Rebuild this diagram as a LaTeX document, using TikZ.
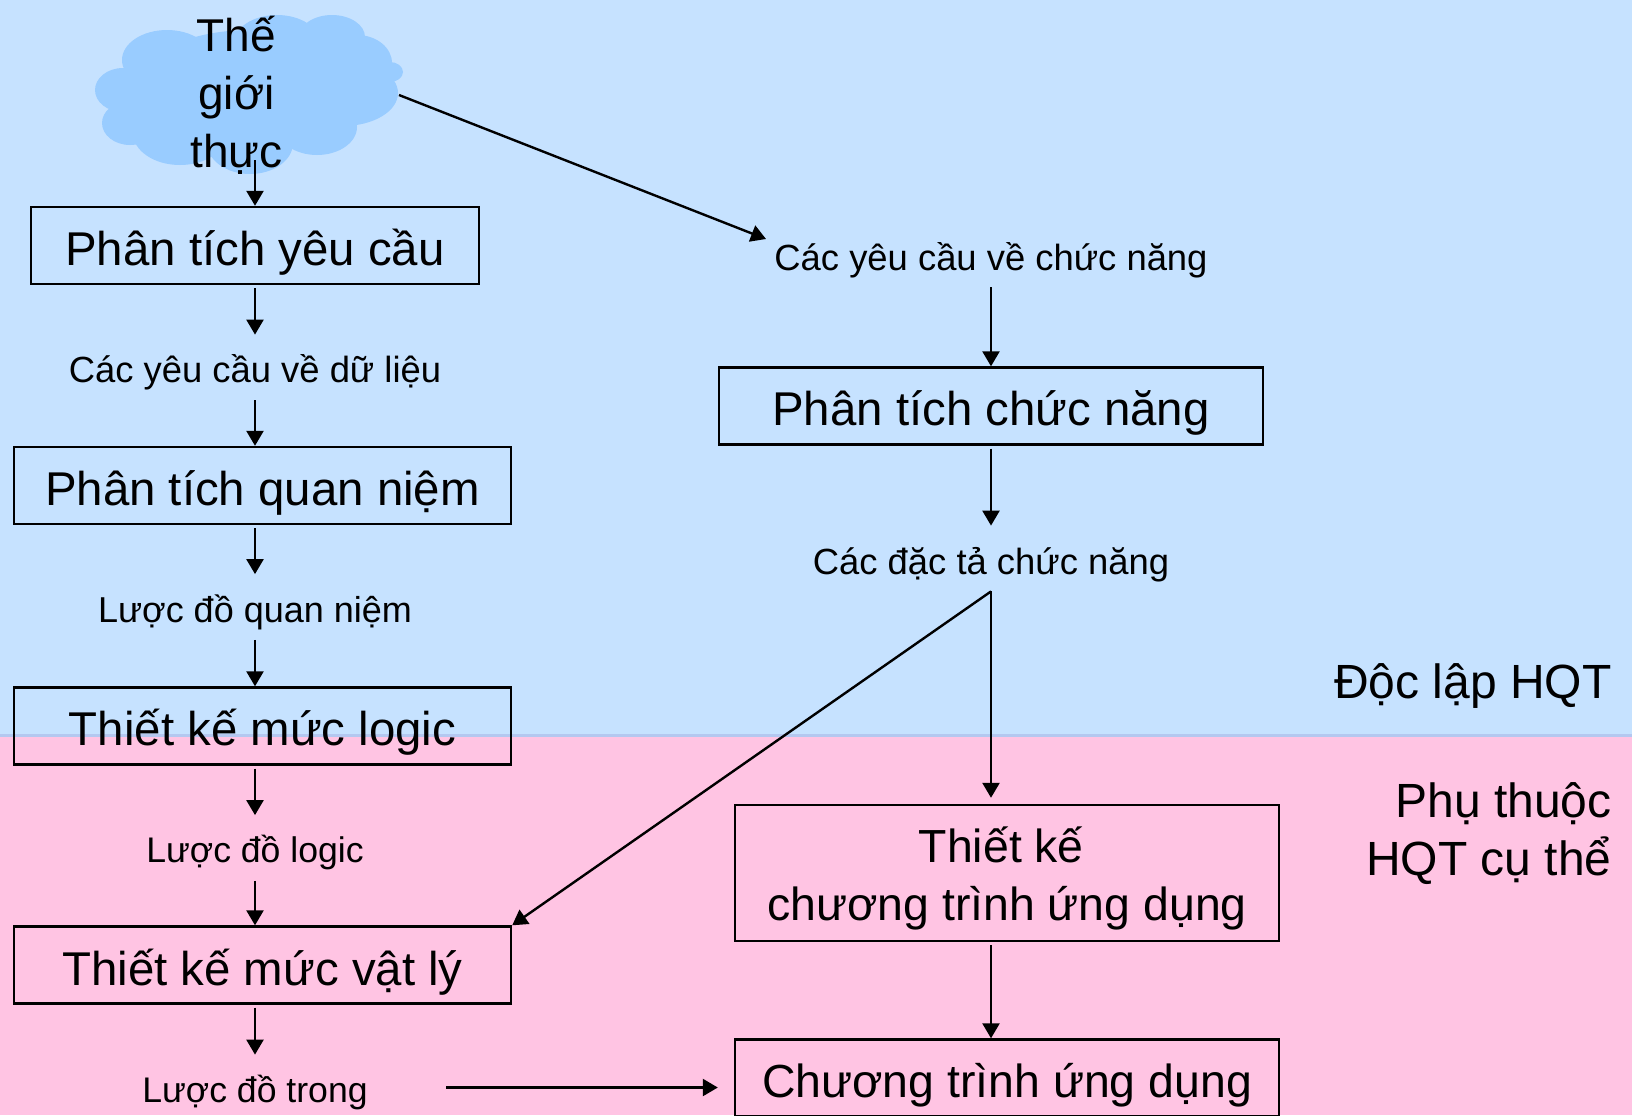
\documentclass[tikz,border=0pt]{standalone}
\usepackage{fontspec}
\setmainfont{Liberation Sans}
\usetikzlibrary{arrows.meta}
\definecolor{topblue}{HTML}{C6E2FF}
\definecolor{lowpink}{HTML}{FFC4E3}
\definecolor{cloudblue}{HTML}{99CCFF}
\definecolor{edgeblue}{HTML}{B4C8F0}
\tikzstyle{stagebox} = [draw, line width=1.2pt, inner sep=0pt, align=center, font=\fontsize{23.7}{29}\selectfont]
\tikzstyle{oneline} = [stagebox, minimum height=38.5pt, text height=26pt, text depth=6pt]
\tikzstyle{outcome} = [inner sep=0pt, minimum height=32.5pt, text height=19pt, text depth=4pt, font=\fontsize{18.2}{22}\selectfont]
\tikzstyle{schema} = [outcome, font=\fontsize{17.8}{22}\selectfont]
\tikzstyle{side} = [anchor=base east, inner sep=0pt, align=right, font=\fontsize{24}{29}\selectfont]
\tikzstyle{arrow} = [-{Triangle[length=7.5pt,width=8.5pt]}, line width=1.2pt, shorten <=1.5pt]

\begin{document}
\begin{tikzpicture}[x=0.5pt, y=-0.5pt]
    \useasboundingbox (0,0) rectangle (1632,1115);
    % The two bands
    \fill[topblue] (0,0) rectangle (1632,735);
    \fill[lowpink] (0,735) rectangle (1632,1115);
    \draw[edgeblue, line width=1.5pt] (0,735) -- (1632,735);

    % The cloud
    \foreach \cx/\cy/\rx/\ry in {123/90/28/22, 130/123/28/22, 167/60/45/30, 277/43/43/28,
            332/37/33/22, 357/63/35/28, 390/72/13/10, 343/93/55/33, 317/127/40/28,
            250/143/43/31, 180/133/47/32, 250/90/117/60}
        \fill[cloudblue] (\cx,\cy) ellipse [x radius=\rx, y radius=\ry];
    \node[stagebox, draw=none, font=\fontsize{23}{29}\selectfont] (real_world) at (236.5,95.5) {Thế\\giới\\thực};
    \coordinate (world_south) at (255,160);
    \coordinate (world_east) at (399,95);

    % The left column
    \node[oneline, minimum width=224pt] (req_analysis) at (255,245.5) {Phân tích yêu cầu};
    \node[outcome] (data_req) at (255,367.5) {Các yêu cầu về dữ liệu};
    \node[oneline, minimum width=248.5pt] (concept_design) at (262.5,485.5) {Phân tích quan niệm};
    \node[schema, font=\fontsize{18}{22}\selectfont] (concept_schema) at (255,607) {Lược đồ quan niệm};
    \node[oneline, minimum width=248.5pt, text height=25pt] (logic_design) at (262.5,726) {Thiết kế mức logic};
    \node[schema, text height=18pt] (logic_schema) at (255,848) {Lược đồ logic};
    \node[oneline, minimum width=248.5pt] (phys_design) at (262.5,965) {Thiết kế mức vật lý};
    \node[schema] (int_schema) at (255,1087.5) {Lược đồ trong};

    % The right column
    \node[outcome, text height=20pt] (func_req) at (991,254.5) {Các yêu cầu về chức năng};
    \coordinate (func_req_in) at (766,239);
    \node[oneline, minimum width=272pt, text height=25pt] (func_analysis) at (991,406) {Phân tích chức năng};
    \node[outcome, text height=20pt] (func_spec) at (991,558.5) {Các đặc tả chức năng};
    \node[stagebox, minimum width=272pt, minimum height=68pt, text height=53.5pt, text depth=6pt,
        font=\fontsize{23.2}{29}\selectfont] (prog_design) at (1007,873)
        {Thiết kế\hspace*{5.7pt}\\chương trình ứng dụng};
    \node[oneline, minimum width=272pt, text height=25pt, font=\fontsize{23.2}{29}\selectfont] (app_prog) at (1007,1078) {Chương trình ứng dụng};

    % The side labels
    \node[side] (independent) at (1612,698) {Độc lập HQT};
    \node[side] (dependent) at (1612,875) {Phụ thuộc\\HQT cụ thể};

    % The transitions
    \draw[arrow, shorten <=0pt] (world_south) -- (req_analysis.north -| world_south);
    \draw[arrow] (req_analysis.south -| data_req) -- (data_req.north);
    \draw[arrow, shorten <=0pt] (data_req.south) -- (data_req |- concept_design.north);
    \draw[arrow] (concept_design.south -| concept_schema) -- (concept_schema.north);
    \draw[arrow, shorten <=0pt] (concept_schema.south) -- (concept_schema |- logic_design.north);
    \draw[arrow] (logic_design.south -| logic_schema) -- (logic_schema.north);
    \draw[arrow, shorten <=0pt] (logic_schema.south) -- (logic_schema |- phys_design.north);
    \draw[arrow] (phys_design.south -| int_schema) -- (int_schema.north);
    \draw[arrow, shorten <=0pt] (world_east) -- (func_req_in);
    \draw[arrow, shorten <=0pt] (func_req.south) -- (func_analysis.north);
    \draw[arrow] (func_analysis.south) -- (func_spec.north);
    \draw[arrow, shorten <=0pt] (func_spec.south) -- (phys_design.north east);
    \draw[arrow, shorten <=0pt, shorten >=3pt] (func_spec.south) -- (func_spec |- prog_design.north);
    \draw[arrow] (func_spec |- prog_design.south) -- (func_spec |- app_prog.north);
    \draw[arrow, shorten <=39pt, shorten >=8pt] (int_schema.east) -- (int_schema -| app_prog.west);
\end{tikzpicture}
\end{document}
